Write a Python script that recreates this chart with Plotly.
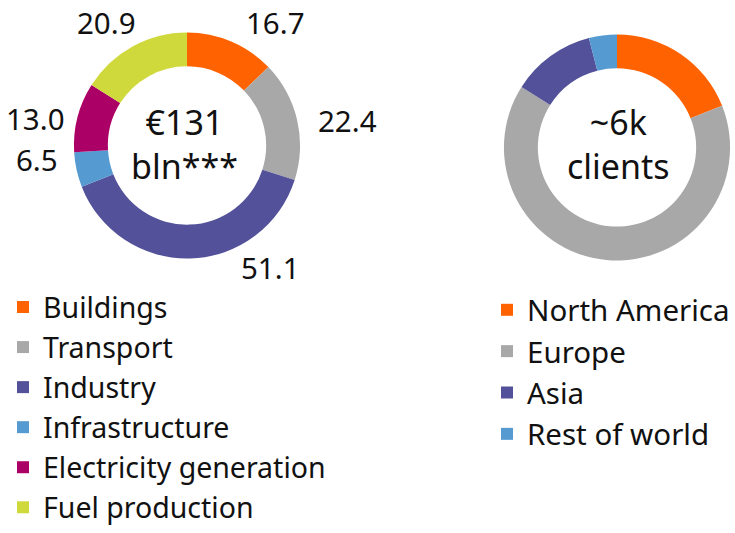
import plotly.graph_objects as go

sectors = ["Buildings", "Transport", "Industry", "Infrastructure", "Electricity generation", "Fuel production"]
sector_values = [16.7, 22.4, 51.1, 6.5, 13.0, 20.9]
sector_colors = ["#FF6200", "#A8A8A8", "#525199", "#559BD1", "#AB0066", "#D0D93C"]

regions = ["North America", "Europe", "Asia", "Rest of world"]
region_values = [19, 65, 12, 4]
region_colors = ["#FF6200", "#A8A8A8", "#525199", "#559BD1"]

center_texts = ["€131<br>bln***", "~6k<br>clients"]

# pixel anchors for the outside value labels (layout only)
label_px = [(275, 23), (347, 123), (270, 272), (37, 162), (35, 121), (106, 23)]

FONT = "Noto Sans"
W, H = 735, 533
INK = "#111111"

fig = go.Figure()
fig.add_trace(go.Pie(
    labels=sectors, values=sector_values, sort=False, direction="clockwise", rotation=0,
    hole=0.70, marker=dict(colors=sector_colors, line=dict(width=0)),
    textinfo="none",
    domain=dict(x=[72 / W, 302 / W], y=[1 - 263 / H, 1 - 33 / H]),
    legend="legend", showlegend=True,
))
fig.add_trace(go.Pie(
    labels=regions, values=region_values, sort=False, direction="clockwise", rotation=0,
    hole=0.70, marker=dict(colors=region_colors, line=dict(width=0)),
    textinfo="none",
    domain=dict(x=[502 / W, 732 / W], y=[1 - 265 / H, 1 - 35 / H]),
    legend="legend2", showlegend=True,
))

for v, (px, py) in zip(sector_values, label_px):
    fig.add_annotation(x=px / W, y=1 - py / H, xref="paper", yref="paper", showarrow=False,
                       xanchor="center", yanchor="middle", text=f"{v:.1f}",
                       font=dict(size=29.5, color=INK, family=FONT))

for t, (px, py) in zip(center_texts, [(184, 146), (618, 146)]):
    fig.add_annotation(x=px / W, y=1 - py / H, xref="paper", yref="paper", showarrow=False,
                       xanchor="center", yanchor="middle", text=t,
                       font=dict(size=34, color=INK, family=FONT))

base_legend = dict(bgcolor="rgba(0,0,0,0)", xanchor="left", yanchor="top",
                   itemclick=False, traceorder="normal")
fig.update_layout(
    width=W, height=H, margin=dict(l=0, r=0, t=0, b=0),
    paper_bgcolor="white", plot_bgcolor="white",
    legend=dict(x=3 / W, y=1 - 287 / H, font=dict(size=28.5, color=INK, family=FONT), **base_legend),
    legend2=dict(x=487 / W, y=1 - 289 / H, font=dict(size=29.5, color=INK, family=FONT), **base_legend),
)
fig.write_html("out.html", config={"displayModeBar": False},
               post_script="document.body.style.margin='0';")
